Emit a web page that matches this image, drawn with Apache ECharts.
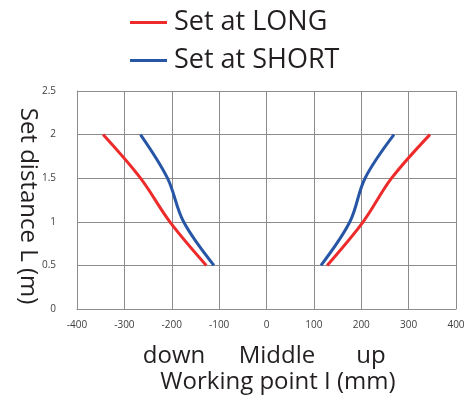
<!DOCTYPE html>
<html>
<head>
<meta charset="utf-8">
<script src="https://cdn.jsdelivr.net/npm/echarts@6/dist/echarts.min.js"></script>
<style>html,body{margin:0;padding:0;background:#fff;}#c{width:472px;height:400px;}</style>
</head>
<body>
<div id="c"></div>
<script>
var distances = [2, 1.5, 1, 0.5];
var longDown = [-345, -266, -204, -127];
var longUp = [128, 204, 264, 345];
var shortDown = [-266, -209, -175, -111];
var shortUp = [115, 176, 208, 269];
var distancesUp = [0.5, 1, 1.5, 2];
var xTicks = [-400, 400, 100];
var yTicks = [0, 2.5, 0.5];

function pairs(xs, ys) { return xs.map(function (x, i) { return [x, ys[i]]; }); }

var FONT = '"Open Sans", "Noto Sans", sans-serif';
var RED = '#ee2b2b', BLUE = '#2856a6';
var TXT = '#231f20';

var chart = echarts.init(document.getElementById('c'), null, {renderer: 'canvas'});
function lineSeries(name, color, data) {
  return {
    name: name, type: 'line', data: data, smooth: 0.35, showSymbol: false, symbol: 'none',
    lineStyle: {color: color, width: 3}, itemStyle: {color: color}, silent: true
  };
}
function txt(text, x, y, rot) {
  return {type: 'text', x: x, y: y, rotation: rot || 0,
    style: {text: text, font: '24px ' + FONT, fill: TXT, align: 'center', verticalAlign: 'middle'}};
}
chart.setOption({
  animation: false,
  backgroundColor: '#fff',
  grid: {left: 77, right: 16, top: 91, bottom: 91, containLabel: false},
  legend: {
    orient: 'vertical', left: 130, top: 7, padding: 0,
    icon: 'rect', itemWidth: 37, itemHeight: 3, itemGap: 7,
    textStyle: {fontFamily: FONT, fontSize: 27, color: TXT, lineHeight: 31, padding: [0, 0, 0, 2]},
    data: ['Set at LONG', 'Set at SHORT']
  },
  xAxis: {
    type: 'value', min: xTicks[0], max: xTicks[1], interval: xTicks[2],
    axisLine: {onZero: false, lineStyle: {color: '#8c8c8c', width: 1}},
    axisTick: {show: false},
    axisLabel: {fontFamily: FONT, fontSize: 10, color: '#404040', margin: 11},
    splitLine: {show: true, lineStyle: {color: '#8c8c8c', width: 1}}
  },
  yAxis: [{
    type: 'value', min: yTicks[0], max: yTicks[1], interval: yTicks[2],
    axisLine: {show: true, onZero: false, lineStyle: {color: '#8c8c8c', width: 1}},
    axisTick: {show: false},
    axisLabel: {fontFamily: FONT, fontSize: 10, color: '#404040', margin: 21},
    splitLine: {show: true, lineStyle: {color: '#8c8c8c', width: 1}}
  }],
  graphic: [
    txt('Set distance L (m)', 28, 206, -Math.PI / 2),
    txt('down', 174, 356),
    txt('Middle', 277, 356),
    txt('up', 371, 356),
    txt('Working point I (mm)', 278, 382)
  ],
  series: [
    lineSeries('Set at LONG', RED, pairs(longDown, distances)),
    lineSeries('Set at LONG', RED, pairs(longUp, distancesUp)),
    lineSeries('Set at SHORT', BLUE, pairs(shortDown, distances)),
    lineSeries('Set at SHORT', BLUE, pairs(shortUp, distancesUp))
  ]
});
</script>
</body>
</html>
